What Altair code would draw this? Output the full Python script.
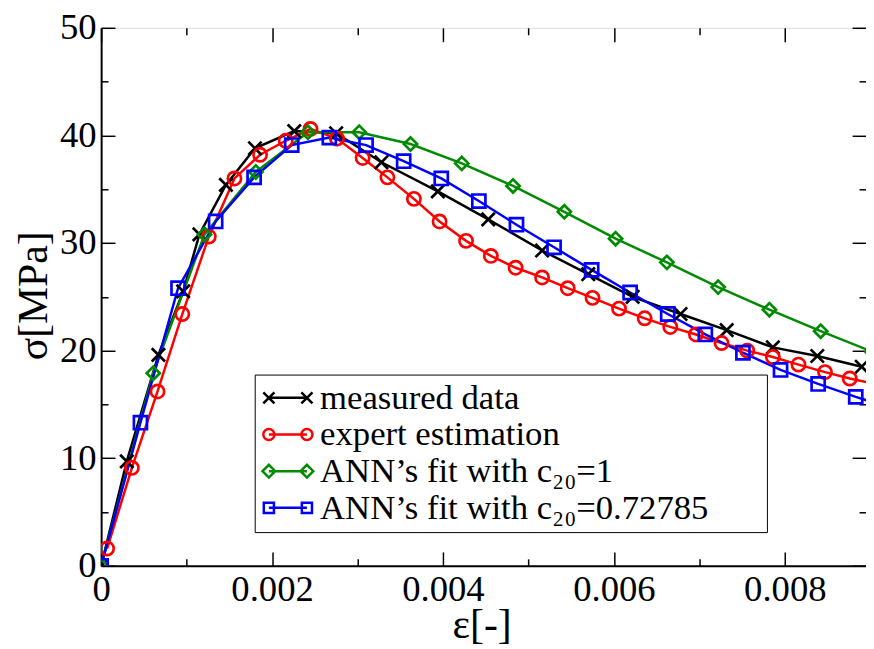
import altair as alt
import pandas as pd

# ---------------- data ----------------
series_names = [
    "measured data",
    "expert estimation",
    "ANN’s fit with c₂₀=1",
    "ANN’s fit with c₂₀=0.72785",
]
series_colors = ["#000000", "#ff0000", "#008b00", "#0000ff"]

measured_x = [0, 0.0003, 0.00067, 0.00096, 0.00115, 0.00146, 0.0018, 0.00226, 0.00275,
              0.00328, 0.00394, 0.00453, 0.00516, 0.0057, 0.00622, 0.00678, 0.00732,
              0.00786, 0.00838, 0.0089]
measured_y = [0, 9.7, 19.6, 25.5, 30.8, 35.4, 38.8, 40.4, 40.2,
              37.5, 34.8, 32.2, 29.3, 27.1, 25.0, 23.4, 21.9,
              20.3, 19.5, 18.5]

expert_x = [0.00007, 0.00036, 0.00066, 0.00095, 0.00126, 0.00156, 0.00186, 0.00216, 0.00245,
            0.00276, 0.00306, 0.00335, 0.00366, 0.00396, 0.00427, 0.00456, 0.00485,
            0.00516, 0.00546, 0.00575, 0.00606, 0.00636, 0.00666, 0.00696, 0.00726,
            0.00756, 0.00786, 0.00816, 0.00847, 0.00876, 0.00906]
expert_y = [1.6, 9.1, 16.2, 23.4, 30.6, 36.0, 38.2, 39.5, 40.6,
            39.7, 37.9, 36.1, 34.1, 32.0, 30.2, 28.8, 27.7,
            26.8, 25.8, 24.9, 23.9, 23.0, 22.2, 21.5, 20.7,
            20.0, 19.4, 18.7, 18.0, 17.4, 16.9]

ann1_x = [0, 0.00061, 0.00121, 0.00181, 0.00242, 0.00302, 0.00362, 0.00422, 0.00482,
          0.00542, 0.00602, 0.00662, 0.00722, 0.00782, 0.00842, 0.00902]
ann1_y = [0, 17.9, 30.8, 36.6, 40.3, 40.3, 39.2, 37.4, 35.3,
          32.9, 30.4, 28.2, 25.9, 23.8, 21.8, 19.9]

ann2_x = [0, 0.00046, 0.0009, 0.00134, 0.00179, 0.00223, 0.00267, 0.0031, 0.00354,
          0.00398, 0.00442, 0.00486, 0.0053, 0.00574, 0.00619, 0.00663, 0.00707,
          0.00751, 0.00795, 0.00839, 0.00883, 0.00927]
ann2_y = [0, 13.3, 25.8, 32.0, 36.1, 39.1, 39.8, 39.1, 37.6,
          36.0, 33.9, 31.7, 29.6, 27.5, 25.4, 23.4, 21.5,
          19.8, 18.2, 16.9, 15.7, 14.6]

x_ticks = [0, 0.001, 0.002, 0.003, 0.004, 0.005, 0.006, 0.007, 0.008]
y_ticks = [0, 5, 10, 15, 20, 25, 30, 35, 40, 45, 50]

# ---------------- table ----------------
rows = []
for name, xs, ys in zip(series_names, [measured_x, expert_x, ann1_x, ann2_x],
                        [measured_y, expert_y, ann1_y, ann2_y]):
    for i, (xv, yv) in enumerate(zip(xs, ys)):
        rows.append({"series": name, "eps": xv, "sigma": yv, "idx": i})
df = pd.DataFrame(rows)

FONT = "Liberation Serif"

marker_paths = [
    "M-1,-1L1,1M-1,1L1,-1",
    "circle",
    "diamond",
    "square",
]
marker_sizes = [180, 175, 220, 185]

legend_paths = [
    "M-1.2,0L1.2,0M-1.55,-0.35L-0.85,0.35M-1.55,0.35L-0.85,-0.35M0.85,-0.35L1.55,0.35M0.85,0.35L1.55,-0.35",
    "M-1.2,0L1.2,0M-0.85,0A0.35,0.35,0,1,1,-1.55,0A0.35,0.35,0,1,1,-0.85,0M1.55,0A0.35,0.35,0,1,1,0.85,0A0.35,0.35,0,1,1,1.55,0",
    "M-1.2,0L1.2,0M-1.6,0L-1.2,-0.4L-0.8,0L-1.2,0.4ZM0.8,0L1.2,-0.4L1.6,0L1.2,0.4Z",
    "M-1.2,0L1.2,0M-1.52,-0.32L-0.88,-0.32L-0.88,0.32L-1.52,0.32ZM0.88,-0.32L1.52,-0.32L1.52,0.32L0.88,0.32Z",
]

xscale = alt.Scale(domain=[0, 0.00895], nice=False, zero=False)
yscale = alt.Scale(domain=[0, 50], nice=False, zero=False)

x_tick_expr = "round(datum.value*1000) % 2 == 0 ? -14 : -7"
y_tick_expr = "round(datum.value) % 10 == 0 ? -14 : -7"

x_axis = alt.Axis(
    orient="bottom", values=x_ticks, grid=False,
    labelExpr="round(datum.value*1000) % 2 == 0 ? (datum.value == 0 ? '0' : format(datum.value, '.3f')) : ''",
    tickSize={"expr": x_tick_expr}, tickColor="black", tickWidth=1.5,
    domainColor="black", domainWidth=2,
    labelFont=FONT, labelFontSize=37, labelColor="black", labelPadding=20,
    labelFlush=False, labelOverlap=False,
    titleFont=FONT, titleFontSize=42, titleFontWeight="normal", titleColor="black",
    titleX=384, titleY=72, titleAlign="center", titleBaseline="alphabetic",
)
y_axis = alt.Axis(
    orient="left", values=y_ticks, grid=False,
    labelExpr="round(datum.value) % 10 == 0 ? datum.label : ''",
    tickSize={"expr": y_tick_expr}, tickColor="black", tickWidth=1.5,
    domainColor="black", domainWidth=2,
    labelFont=FONT, labelFontSize=37, labelColor="black", labelPadding=19,
    labelFlush=False, labelOverlap=False,
    titleFont=FONT, titleFontSize=42, titleFontWeight="normal", titleColor="black",
    titleX=-68, titleY=270, titleAngle=-90, titleAlign="center", titleBaseline="middle",
)
x_axis_top = alt.Axis(
    orient="top", values=x_ticks, grid=False, labels=False, domain=False, title=None,
    tickSize={"expr": x_tick_expr}, tickColor="black", tickWidth=1.5,
)
y_axis_right = alt.Axis(
    orient="right", values=y_ticks, grid=False, labels=False, domain=False, title=None,
    tickSize={"expr": y_tick_expr}, tickColor="black", tickWidth=1.5,
)

color_scale = alt.Scale(domain=series_names, range=series_colors)

base = alt.Chart(df)

lines = base.mark_line(strokeWidth=2.5, clip=True).encode(
    x=alt.X("eps:Q", scale=xscale, axis=x_axis, title="ε[-]"),
    y=alt.Y("sigma:Q", scale=yscale, axis=y_axis, title="σ[MPa]"),
    color=alt.Color("series:N", scale=color_scale, legend=None),
    order=alt.Order("idx:Q"),
)

points = base.mark_point(filled=False, strokeWidth=2.7, clip=True, opacity=1).encode(
    x=alt.X("eps:Q", scale=xscale, axis=None),
    y=alt.Y("sigma:Q", scale=yscale, axis=None),
    color=alt.Color("series:N", scale=color_scale, legend=None),
    shape=alt.Shape("series:N", scale=alt.Scale(domain=series_names, range=marker_paths), legend=None),
    size=alt.Size("series:N", scale=alt.Scale(domain=series_names, range=marker_sizes), legend=None),
)

legend_cfg = alt.Legend(
    title=None, orient="none", legendX=155, legendY=350,
    padding=6, fillColor="white", strokeColor="black", cornerRadius=0,
    labelFont=FONT, labelFontSize=35, labelColor="black", labelLimit=0,
    labelExpr="datum.label + '\u2800\u2800'",
    labelOffset=15, symbolOffset=10, rowPadding=1, symbolSize=1024, symbolStrokeWidth=2.5,
    symbolOpacity=1, symbolFillColor="transparent",
)

legend_layer = base.mark_point(filled=False, strokeWidth=2.5, opacity=0, clip=True).encode(
    x=alt.X("eps:Q", scale=xscale, axis=x_axis_top),
    y=alt.Y("sigma:Q", scale=yscale, axis=y_axis_right),
    color=alt.Color("series:N", scale=color_scale, legend=legend_cfg),
    shape=alt.Shape("series:N", scale=alt.Scale(domain=series_names, range=legend_paths), legend=legend_cfg),
)

chart = (
    alt.layer(lines, points, legend_layer)
    .resolve_scale(color="independent", shape="independent")
    .properties(
        width=772, height=543,
        padding={"left": 94, "top": 17, "right": 0, "bottom": 81},
        autosize=alt.AutoSizeParams(type="none"),
        background="white",
    )
    .configure_view(stroke="black", strokeWidth=2)
    .configure_axis(labelFont=FONT, titleFont=FONT, labelFontSize=37, titleFontSize=42,
                    labelColor="black", titleColor="black", titleFontWeight="normal")
    .configure_legend(labelFont=FONT, labelFontSize=35)
    .configure(font=FONT)
)

chart.save("out.html", embed_options={"renderer": "svg", "actions": False})
